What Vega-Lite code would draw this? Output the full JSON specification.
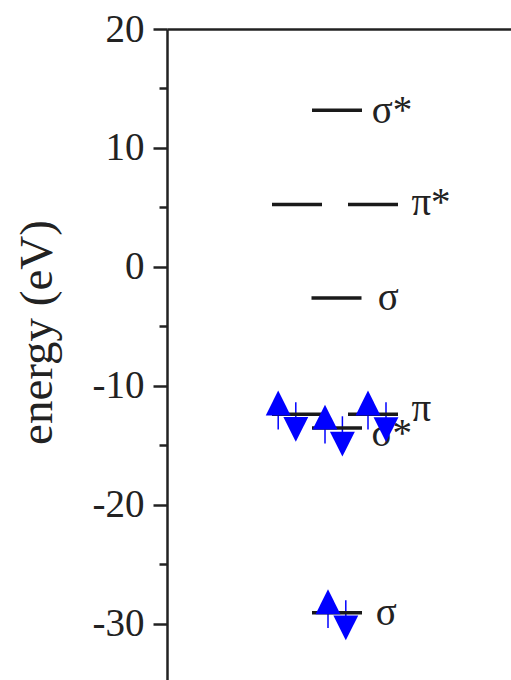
{
  "$schema": "https://vega.github.io/schema/vega-lite/v6.json",
  "width": 344,
  "height": 651,
  "autosize": {"type": "none"},
  "padding": {"left": 167, "top": 29, "right": 0, "bottom": 0},
  "config": {
    "view": {"stroke": null},
    "font": "Liberation Serif"
  },
  "datasets": {
    "levels": [
      {"orbital": "σ*", "x1": 14.5, "x2": 19.5, "energy": 13.16},
      {"orbital": "π*", "x1": 10.5, "x2": 15.5, "energy": 5.23},
      {"orbital": "π*", "x1": 18.1, "x2": 23.1, "energy": 5.23},
      {"orbital": "σ", "x1": 14.45, "x2": 19.45, "energy": -2.62},
      {"orbital": "π", "x1": 10.5, "x2": 15.5, "energy": -12.4},
      {"orbital": "π", "x1": 18.1, "x2": 23.1, "energy": -12.4},
      {"orbital": "σ*", "x1": 14.5, "x2": 19.5, "energy": -13.55},
      {"orbital": "σ", "x1": 14.5, "x2": 19.5, "energy": -29.1}
    ],
    "spins": [
      {"spin": "up", "x": 11.12, "head": -11.45, "tail": -13.69},
      {"spin": "down", "x": 12.88, "head": -13.67, "tail": -11.4},
      {"spin": "up", "x": 15.8, "head": -12.64, "tail": -14.87},
      {"spin": "down", "x": 17.54, "head": -14.91, "tail": -12.57},
      {"spin": "up", "x": 20.1, "head": -11.45, "tail": -13.69},
      {"spin": "down", "x": 21.9, "head": -13.69, "tail": -11.4},
      {"spin": "up", "x": 16.1, "head": -28.17, "tail": -30.37},
      {"spin": "down", "x": 17.88, "head": -30.37, "tail": -28.05}
    ],
    "labels": [
      {"text": "σ*", "x": 20.47, "energy": 12.12},
      {"text": "π*", "x": 24.44, "energy": 4.39},
      {"text": "σ", "x": 21.07, "energy": -3.6},
      {"text": "π", "x": 24.44, "energy": -13.0},
      {"text": "σ*", "x": 20.44, "energy": -15.1},
      {"text": "σ", "x": 20.87, "energy": -30.1}
    ]
  },
  "layer": [
    {
      "data": {"name": "labels"},
      "mark": {"type": "text", "align": "left", "baseline": "alphabetic", "font": "Liberation Serif", "fontSize": 39, "color": "#222222"},
      "encoding": {
        "x": {
          "field": "x", "type": "quantitative",
          "scale": {"domain": [0, 34.4], "nice": false, "zero": false},
          "axis": {"orient": "top", "domain": true, "domainColor": "#222222", "domainWidth": 2.5, "ticks": false, "labels": false, "grid": false, "title": null}
        },
        "y": {
          "field": "energy", "type": "quantitative",
          "scale": {"domain": [-34.75, 20], "nice": false, "zero": false},
          "axis": {
            "orient": "left",
            "title": "energy (eV)",
            "grid": false,
            "values": [-30, -25, -20, -15, -10, -5, 0, 5, 10, 15, 20],
            "labelExpr": "datum.value % 10 === 0 ? '' + datum.value : ''",
            "labelFont": "Liberation Serif",
            "labelFontSize": 39,
            "labelColor": "#222222",
            "labelPadding": 9,
            "labelBaseline": "middle",
            "tickSize": {"condition": {"test": "datum.value % 10 === 0", "value": 14}, "value": 8},
            "tickWidth": 2.5,
            "tickColor": "#222222",
            "domainColor": "#222222",
            "domainWidth": 2.5,
            "titleFont": "Liberation Serif",
            "titleFontSize": 47,
            "titleFontWeight": "normal",
            "titleColor": "#222222",
            "titleAlign": "center",
            "titleBaseline": "alphabetic",
            "titleAngle": -90,
            "titleX": -116,
            "titleY": 303
          }
        },
        "text": {"field": "text"}
      }
    },
    {
      "data": {"name": "spins"},
      "mark": {"type": "rule", "color": "#0000ff", "strokeWidth": 1.5},
      "encoding": {
        "x": {"field": "x", "type": "quantitative"},
        "y": {"field": "head", "type": "quantitative"},
        "y2": {"field": "tail"}
      }
    },
    {
      "data": {"name": "levels"},
      "mark": {"type": "rule", "color": "#1a1a1a", "strokeWidth": 3.5},
      "encoding": {
        "x": {"field": "x1", "type": "quantitative"},
        "x2": {"field": "x2"},
        "y": {"field": "energy", "type": "quantitative"}
      }
    },
    {
      "data": {"name": "spins"},
      "mark": {"type": "point", "filled": true, "opacity": 1, "size": 620, "color": "#0000ff"},
      "encoding": {
        "x": {"field": "x", "type": "quantitative"},
        "y": {"field": "head", "type": "quantitative"},
        "shape": {
          "field": "spin", "type": "nominal", "legend": null,
          "scale": {"domain": ["up", "down"], "range": ["M0,-1L1,1L-1,1Z", "M0,1L1,-1L-1,-1Z"]}
        }
      }
    }
  ]
}
